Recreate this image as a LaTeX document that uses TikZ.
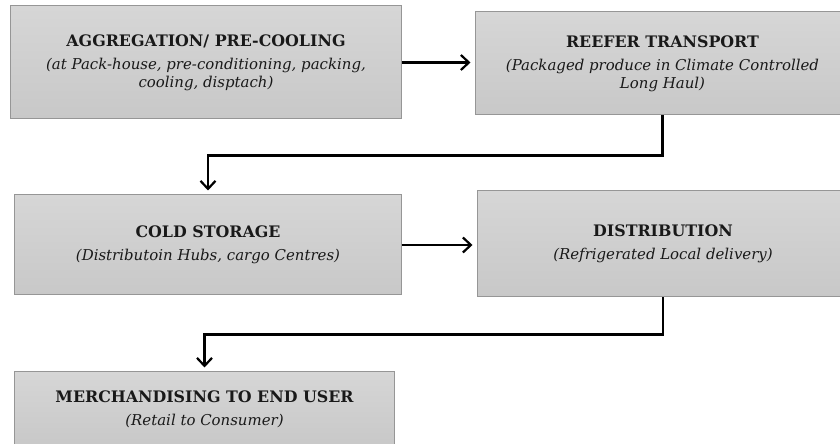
\documentclass[tikz,border=0pt]{standalone}
\usepackage{fontspec}
\setmainfont{DejaVu Serif}
\usetikzlibrary{arrows.meta}
\definecolor{boxtop}{RGB}{214,214,214}
\definecolor{boxbot}{RGB}{200,200,200}
\definecolor{boxline}{RGB}{150,150,150}
\definecolor{ink}{RGB}{25,25,25}
\newcommand{\stagetitle}[1]{{\fontsize{15.9}{18}\selectfont\bfseries #1}}
\begin{document}
\begin{tikzpicture}[x=1bp,y=-1bp,
  stage/.style={rectangle,draw=boxline,line width=1bp,top color=boxtop,bottom color=boxbot,align=center,text=ink,font=\fontsize{15}{18}\selectfont,inner sep=0pt},
  flow/.style={line width=2.2bp,shorten >=4bp,-{Straight Barb[length=8bp,width=15bp]}}]
\useasboundingbox (0,0) rectangle (840,444);
\clip (0,0) rectangle (840,444);
% centre x, centre y
\node[stage,minimum width=390bp,minimum height=113bp] (agg) at (206,62.5) {\stagetitle{AGGREGATION/ PRE-COOLING}\\[5bp]\textit{(at Pack-house, pre-conditioning, packing,}\\\textit{cooling, disptach)}};
\node[stage,minimum width=375bp,minimum height=103bp] (reefer) at (662.5,63.5) {\stagetitle{REEFER TRANSPORT}\\[5bp]\textit{(Packaged produce in Climate Controlled}\\\textit{Long Haul)}};
\node[stage,minimum width=386bp,minimum height=100bp] (cold) at (208,245) {\stagetitle{COLD STORAGE}\\[5bp]\textit{(Distributoin Hubs, cargo Centres)}};
\node[stage,minimum width=372bp,minimum height=106bp] (dist) at (663,244) {\stagetitle{DISTRIBUTION}\\[5bp]\textit{(Refrigerated Local delivery)}};
\node[stage,minimum width=379bp,minimum height=74bp] (retail) at (204.5,409) {\stagetitle{MERCHANDISING TO END USER}\\[5bp]\textit{(Retail to Consumer)}};
\draw[flow] (agg.east) -- (agg.east -| reefer.west);
\draw[flow] (reefer.south) -- ++(0,40) -| (cold.north);
\draw[flow] (cold.east) -- (cold.east -| dist.west);
\draw[flow] (dist.south) -- ++(0,37) -| (retail.north);
\end{tikzpicture}
\end{document}
